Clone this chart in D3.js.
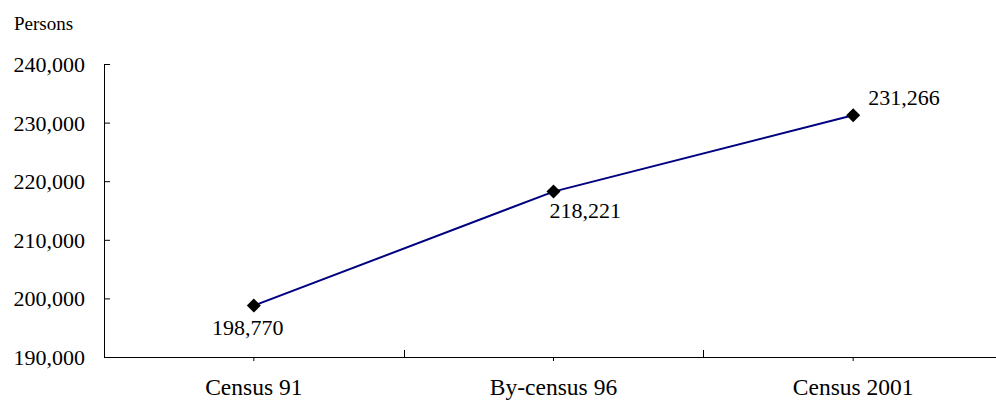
<!DOCTYPE html>
<html>
<head>
<meta charset="utf-8">
<script src="https://cdn.jsdelivr.net/npm/d3@7"></script>
<style>
  html, body { margin: 0; padding: 0; background: #fff; }
  svg { display: block; }
</style>
</head>
<body>
<svg id="chart" width="996" height="400"></svg>
<script>
const categories = ["Census 91", "By-census 96", "Census 2001"];
const population = [198770, 218221, 231266];
const yTicks = [190000, 200000, 210000, 220000, 230000, 240000];
const yUnit = "Persons";

const FONT = "'Liberation Serif', 'Times New Roman', Times, serif";
const svg = d3.select("#chart");
const mLeft = 104, mRight = 1003, mTop = 64, mBottom = 357;

const x = d3.scaleBand().domain(categories).range([mLeft, mRight]).padding(0);
const y = d3.scaleLinear().domain([190000, 240000]).range([mBottom, mTop]);
const fmt = d3.format(",");

// Y axis
const yAxis = d3.axisLeft(y).tickValues(yTicks).tickFormat(fmt)
  .tickSizeInner(-6).tickSizeOuter(0).tickPadding(19);
const gy = svg.append("g").attr("transform", `translate(${mLeft},0)`).call(yAxis)
  .attr("font-family", FONT);
gy.selectAll("text").style("font-family", FONT).style("font-size", "22px").attr("dy", "0.34em");
gy.selectAll("path, line").attr("stroke", "#000").attr("stroke-width", 1);

// X axis
const xAxis = d3.axisBottom(x).tickSizeInner(4).tickSizeOuter(0).tickPadding(17);
const gx = svg.append("g").attr("transform", `translate(0,${mBottom})`).call(xAxis)
  .attr("font-family", FONT);
gx.selectAll("text").style("font-family", FONT).style("font-size", "23.5px");
gx.selectAll("path, line").attr("stroke", "#000").attr("stroke-width", 1);
// category boundary ticks (inward)
gx.selectAll(".boundary").data(categories.slice(1)).enter().append("line")
  .attr("class", "boundary")
  .attr("x1", d => Math.round(x(d)) + 0.5).attr("x2", d => Math.round(x(d)) + 0.5)
  .attr("y1", 0).attr("y2", -7).attr("stroke", "#000");

// unit label
svg.append("text").attr("x", 14).attr("y", 30)
  .style("font-family", FONT).style("font-size", "19px").text(yUnit);

// line
const cx = d => x(d) + x.bandwidth() / 2;
const pts = categories.map((c, i) => [cx(c), y(population[i])]);
svg.append("path").datum(pts)
  .attr("d", d3.line())
  .attr("fill", "none").attr("stroke", "#000080").attr("stroke-width", 2);

// markers
svg.selectAll(".mk").data(pts).enter().append("path")
  .attr("class", "mk")
  .attr("transform", d => `translate(${d[0]},${d[1]})`)
  .attr("d", "M0,-7L7,0L0,7L-7,0Z").attr("fill", "#000");

// data labels
const place = [
  { dx: -6, dy: 29, anchor: "middle" },
  { dx: -4, dy: 26, anchor: "start" },
  { dx: 15, dy: -10, anchor: "start" }
];
svg.selectAll(".lbl").data(pts).enter().append("text")
  .attr("class", "lbl")
  .attr("x", (d, i) => d[0] + place[i].dx)
  .attr("y", (d, i) => d[1] + place[i].dy)
  .attr("text-anchor", (d, i) => place[i].anchor)
  .style("font-family", FONT).style("font-size", "22px")
  .text((d, i) => fmt(population[i]));
</script>
</body>
</html>
